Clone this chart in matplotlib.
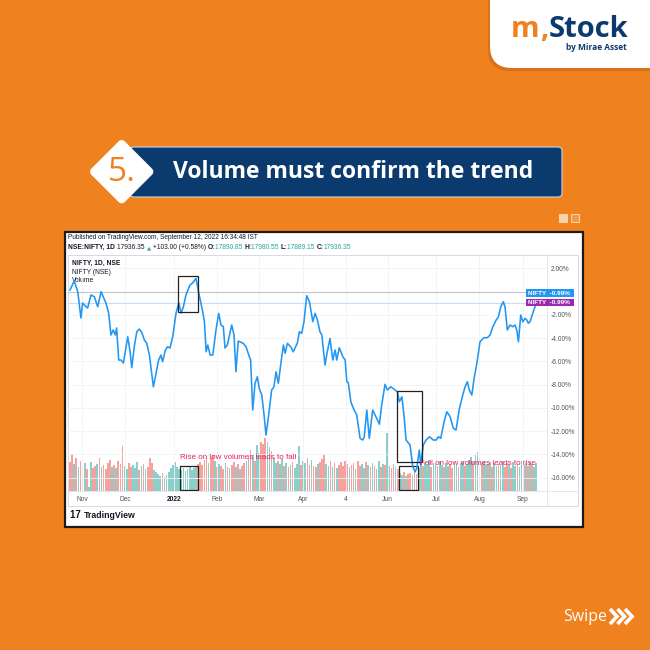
import numpy as np
import matplotlib.pyplot as plt
from matplotlib.patches import Rectangle, FancyBboxPatch, Polygon
from matplotlib.lines import Line2D

plt.rcParams['font.family'] = ['Liberation Sans', 'DejaVu Sans']
plt.rcParams['axes.unicode_minus'] = False

# ---------- data (session index from 25 Oct 2021, % change) ----------
line_x = [0, 2.0, 3.7, 5.2, 6.0, 7.6, 8.4, 10.0, 11.6, 13.2,
          14.8, 17.1, 18.4, 19.5, 20.6, 21.6, 22.2, 23.2, 24.3, 25.4,
          27.5, 28.6, 29.4, 30.6, 31.8, 33.0, 34.3, 35.4, 36.5, 37.8,
          39.7, 41.0, 42.2, 43.3, 44.1, 45.4, 46.5, 47.6, 48.9, 50.5,
          51.8, 52.9, 54.0, 55.2, 57.1, 58.4, 60.0, 61.3, 63.2, 64.0,
          64.8, 65.6, 66.7, 68.0, 69.5, 70.8, 71.9, 73.0, 73.8, 74.9,
          77.0, 78.1, 79.0, 80.1, 82.5, 83.8, 85.4, 86.0, 87.0, 88.1,
          89.2, 90.1, 91.3, 92.4, 93.3, 94.4, 96.0, 97.1, 98.1, 99.2,
          100.3, 101.6, 102.4, 103.5, 105.1, 106.3, 108.2, 109.2, 110.3, 111.4,
          112.7, 114.0, 115.6, 116.7, 117.8, 119.0, 119.9, 121.4, 122.5, 123.8,
          125.1, 126.2, 127.0, 128.2, 129.9, 131.0, 131.8, 132.5, 133.7, 134.9,
          136.5, 138.1, 139.4, 140.1, 141.3, 142.5, 144.1, 146.0, 147.3, 148.4,
          150.0, 151.1, 152.7, 154.8, 155.9, 156.8, 158.0, 159.0, 160.0, 161.9,
          163.2, 164.3, 165.1, 166.3, 167.0, 168.2, 169.5, 171.1, 173.0, 174.3,
          175.4, 176.5, 178.1, 179.4, 181.0, 182.5, 183.8, 185.4, 187.0, 188.1,
          189.2, 190.1, 191.3, 192.4, 193.7, 195.2, 197.1, 198.7, 200.0, 201.3,
          202.9, 204.0, 205.1, 206.3, 207.1, 208.2, 209.5, 210.8, 211.9, 212.7,
          213.5, 214.6, 215.6, 216.7, 217.5, 218.2, 219.0, 220.3, 221.4, 222.2]
line_pct = [0.14, 0.91, -0.01, -2.27, -0.98, -1.30, -1.41, -0.29, -0.44, -1.30,
            -0.01, -0.98, -1.84, -3.73, -3.30, -3.73, -3.13, -5.88, -5.88, -6.14,
            -3.88, -5.17, -6.54, -4.74, -3.45, -3.22, -3.56, -4.16, -4.42, -5.45,
            -8.18, -7.00, -5.88, -5.45, -6.03, -5.02, -4.74, -4.85, -3.88, -1.84,
            -0.98, -1.84, -1.30, -0.29, 0.57, 0.74, 1.14, -0.12, -1.73, -2.59,
            -5.17, -4.59, -5.45, -5.45, -3.30, -1.87, -2.87, -3.02, -4.85, -4.59,
            -2.87, -3.73, -6.89, -4.25, -4.45, -4.74, -5.60, -5.88, -10.18, -7.88,
            -7.32, -8.31, -8.89, -10.61, -12.33, -10.89, -8.46, -8.18, -6.89, -7.88,
            -6.31, -4.59, -5.31, -4.45, -4.74, -5.17, -4.45, -3.45, -3.59, -2.59,
            -0.35, -0.87, -2.59, -1.87, -2.44, -3.45, -3.73, -6.31, -5.17, -4.02,
            -5.88, -5.02, -5.88, -4.82, -5.60, -5.88, -7.75, -7.83, -9.47, -10.03,
            -10.61, -12.61, -12.76, -12.48, -10.18, -12.61, -10.18, -10.89, -11.40, -9.75,
            -7.97, -8.46, -8.18, -8.46, -8.61, -9.47, -9.04, -10.61, -12.76, -13.19,
            -15.06, -15.49, -15.19, -13.62, -14.91, -13.19, -12.76, -12.48, -12.76, -12.76,
            -12.48, -12.61, -11.19, -10.33, -10.76, -11.75, -11.90, -10.03, -8.89, -8.18,
            -7.75, -8.46, -8.89, -7.45, -6.17, -4.31, -3.96, -3.96, -3.73, -3.02,
            -2.44, -2.16, -1.30, -0.87, -1.30, -3.30, -2.87, -3.02, -2.87, -3.30,
            -4.31, -2.01, -2.59, -2.30, -2.44, -2.73, -2.59, -1.87, -1.30, -0.99]

# daily volume (millions), one bar per session, and up/down flag
volume = [290, 370, 270, 330, 240, 300, 260, 280, 220, 40,
          290, 230, 250, 270, 330, 240, 260, 220, 280, 310,
          240, 260, 230, 300, 270, 450, 250, 220, 280, 240,
          260, 230, 290, 210, 250, 270, 220, 240, 330, 280,
          210, 190, 170, 150, 180, 140, 160, 190, 230, 260,
          290, 240, 220, 210, 230, 200, 220, 250, 210, 230,
          240, 270, 290, 260, 310, 340, 280, 330, 360, 300,
          240, 270, 250, 220, 280, 240, 230, 260, 290, 240,
          270, 220, 250, 280, 300, 340, 410, 360, 300, 460,
          380, 490, 470, 530, 490, 440, 400, 330, 280, 300,
          270, 320, 250, 280, 240, 260, 290, 230, 270, 450,
          260, 300, 280, 330, 260, 310, 250, 240, 270, 290,
          320, 360, 270, 250, 300, 240, 280, 230, 260, 290,
          250, 300, 270, 240, 260, 280, 220, 300, 250, 270,
          230, 290, 260, 240, 280, 250, 220, 300, 240, 270,
          260, 580, 250, 230, 270, 240, 220, 180, 160, 190,
          150, 170, 180, 160, 190, 170, 230, 270, 250, 290,
          260, 310, 240, 280, 270, 250, 300, 260, 240, 280,
          250, 270, 230, 290, 260, 240, 280, 300, 250, 270,
          310, 340, 300, 360, 390, 330, 280, 300, 260, 270,
          290, 240, 280, 250, 270, 260, 300, 240, 280, 260,
          230, 290, 250, 270, 240, 300, 260, 280, 250, 290,
          270, 240, 280]
vol_dir = ("rrgrgrrgrg" "grrgrgrrrr" "grgrrrggrr" "gggrgrgrrr" "ggggrggggg"
           "gggggggggg" "grrrrrgrrg" "rgrrgrgrrg" "rgrrgrrgrg" "grrrggrggr"
           "ggrgrgrggg" "rggrrgrrgr" "rrggrgrgrr" "rrrgrrgrrg" "grgrgrggrg"
           "rggrrgrggr" "grrgrrggrg" "ggrggrggrg" "grrggrggrg" "ggrgggrggr"
           "grggrggrrg" "rggrggrgrg" "rgg")

month_pos = [5.9, 26.2, 49.5, 69.9, 90.0, 111.1, 131.4, 151.3, 174.1, 194.9, 215.6]
month_lab = ['Nov', 'Dec', '2022', 'Feb', 'Mar', 'Apr', '4', 'Jun', 'Jul', 'Aug', 'Sep']
pct_ticks = [2, -2, -4, -6, -8, -10, -12, -14, -16]
last_pct = -0.99

ORANGE = '#F0811F'
NAVY = '#0B3A6E'
TEAL = '#26a69a'
UP = '#8ccfc8'
DOWN = '#f5a19e'
PINK = '#e91e63'

W = H = 650
fig = plt.figure(figsize=(6.5, 6.5), dpi=100, facecolor=ORANGE)

def frac(l, t, r, b):
    return [l / W, 1 - b / H, (r - l) / W, (b - t) / H]

# ---------- background / decorations in pixel coords ----------
bg = fig.add_axes([0, 0, 1, 1])
bg.set_xlim(0, W)
bg.set_ylim(H, 0)
bg.axis('off')

# logo card
bg.add_patch(FancyBboxPatch((488, -40), 220, 111, boxstyle='round,pad=0,rounding_size=22',
                            fc='#d9701a', ec='none'))
bg.add_patch(FancyBboxPatch((490, -40), 220, 108, boxstyle='round,pad=0,rounding_size=22',
                            fc='white', ec='none'))

def chain(parts, x, y, ax, **kw):
    r = fig.canvas.get_renderer()
    for s, props in parts:
        opts = dict(kw)
        opts.update(props)
        t = ax.text(x, y, s, va='baseline', ha='left', **opts)
        bb = t.get_window_extent(renderer=r)
        x = ax.transData.inverted().transform((bb.x1, bb.y0))[0]
    return x

chain([('m', dict(color=ORANGE)), (',', dict(color=ORANGE)), ('Stock', dict(color=NAVY))],
      511, 37, bg, fontsize=21, fontweight='bold', family='Open Sans')
bg.text(627, 48, 'by Mirae Asset', ha='right', va='center', fontsize=6,
        fontweight='bold', color=NAVY, family='Open Sans')

# title banner
bg.add_patch(FancyBboxPatch((130, 147), 432, 50, boxstyle='round,pad=0,rounding_size=4',
                            fc=NAVY, ec='#c9d3e0', lw=0.8))
cx, cy, d = 121.7, 171.7, 27.5
bg.add_patch(Polygon([(cx, cy - d), (cx + d, cy), (cx, cy + d), (cx - d, cy)],
                     closed=True, fc='white', ec='white', lw=6, joinstyle='round'))
bg.text(cx, cy + 1, '5.', ha='center', va='center', fontsize=24,
        color=ORANGE, family='Open Sans')
bg.text(173, 172, 'Volume must confirm the trend', ha='left', va='center',
        fontsize=16.5, fontweight='bold', color='white', family='Open Sans')

# page squares
bg.add_patch(Rectangle((559, 213.5), 8, 8, fc='#f9d2aa', ec='#f9d2aa', lw=0.8))
bg.add_patch(Rectangle((571, 213.5), 8, 8, fc='#f39a4a', ec='#f9d2aa', lw=0.8))

# swipe
bg.text(563, 617, 'Swipe', ha='left', va='center', fontsize=11.5, color='white',
        family='Open Sans')
for k in range(3):
    x0 = 610 + 7.5 * k
    bg.add_line(Line2D([x0, x0 + 7, x0], [609, 616.5, 624], color='white', lw=2.6,
                       solid_joinstyle='miter', solid_capstyle='butt'))

# chart panel
bg.add_patch(Rectangle((65, 232), 518, 295, fc='white', ec='#1b1b1b', lw=1.6))
bg.add_patch(Rectangle((68, 255), 510, 251, fc='none', ec='#d1d4dc', lw=0.6))
bg.add_line(Line2D([547, 547], [255, 506], color='#e0e3eb', lw=0.6))
bg.add_line(Line2D([68, 578], [491, 491], color='#e0e3eb', lw=0.6))

bg.text(68.5, 239, 'Published on TradingView.com, September 12, 2022 16:34:48 IST',
        ha='left', va='baseline', fontsize=4.7, color='#131722')
chain([('NSE:NIFTY, 1D ', dict(fontweight='bold', color='#131722')),
       ('17936.35 ', dict(color='#131722')),
       ('▲', dict(color=TEAL, family='DejaVu Sans', fontsize=3.9)),
       (' +103.00 (+0.58%) ', dict(color='#131722')),
       ('O:', dict(fontweight='bold', color='#131722')),
       ('17890.85 ', dict(color=TEAL)),
       ('H:', dict(fontweight='bold', color='#131722')),
       ('17980.55 ', dict(color=TEAL)),
       ('L:', dict(fontweight='bold', color='#131722')),
       ('17889.15 ', dict(color=TEAL)),
       ('C:', dict(fontweight='bold', color='#131722')),
       ('17936.35', dict(color=TEAL))],
      68.5, 249, bg, fontsize=4.8)

bg.text(72, 263.5, 'NIFTY, 1D, NSE', fontsize=4.8, fontweight='bold', color='#131722', va='center')
bg.text(72, 272.3, 'NIFTY (NSE)', fontsize=4.8, color='#131722', va='center')
bg.text(72, 280.8, 'Volume', fontsize=4.8, color='#131722', va='center')

# TradingView footer
chain([('17 ', dict(fontweight='heavy', fontsize=7)),
       ('TradingView', dict(fontweight='bold', fontsize=6.3))],
      70, 518, bg, color='#131722')

# ---------- chart ----------
ax = fig.add_axes(frac(68, 256, 547, 491))
axv = ax.twinx()
ax.set_zorder(axv.get_zorder() + 1)
ax.patch.set_visible(False)

bar_colors = [UP if c == 'g' else DOWN for c in vol_dir]
axv.bar(np.arange(len(volume)), volume, width=0.8, color=bar_colors, linewidth=0)
axv.set_ylim(0, 2350)
axv.set_yticks([])
for s in axv.spines.values():
    s.set_visible(False)

for p in pct_ticks + [0]:
    ax.axhline(p, color='#f0f3fa', lw=0.6, zorder=0)
for m in month_pos:
    ax.axvline(m, color='#f0f3fa', lw=0.6, zorder=0)
ax.axhline(0, color='#c3c6ce', lw=0.8, zorder=1)
ax.axhline(last_pct, color='#c8dcf8', lw=0.8, zorder=1)

ax.plot(line_x, line_pct, color='#2196f3', lw=1.15, zorder=3)

ax.set_xlim(-0.95, 227.1)
ax.set_ylim(-17.14, 3.06)
ax.set_xticks(month_pos)
ax.set_xticklabels(month_lab)
for lab in ax.get_xticklabels():
    lab.set_fontsize(4.8)
    lab.set_color('#50535e')
    if lab.get_text() == '2022':
        lab.set_fontweight('bold')
        lab.set_color('#131722')
ax.tick_params(axis='x', length=0, pad=3.5)
ax.yaxis.tick_right()
ax.set_yticks(pct_ticks)
ax.set_yticklabels([f'{p:.2f}%' for p in pct_ticks])
ax.tick_params(axis='y', length=0, pad=3, labelsize=4.8, labelcolor='#50535e')
for s in ax.spines.values():
    s.set_visible(False)

# annotations
ax.add_patch(Rectangle((51.6, -1.73), 9.2, 3.10, fill=False, ec='#222222', lw=0.9, zorder=4))
ax.add_patch(Rectangle((155.9, -14.68), 11.6, 6.13, fill=False, ec='#222222', lw=0.9, zorder=4))
axv.add_patch(Rectangle((52.4, 10), 8.4, 240, fill=False, ec='#222222', lw=0.9, zorder=4))
axv.add_patch(Rectangle((156.8, 10), 9.1, 240, fill=False, ec='#222222', lw=0.9, zorder=4))
ax.text(52.4, -14.3, 'Rise on low volumes leads to fall', color=PINK, fontsize=5.8,
        ha='left', va='center', zorder=5)
ax.text(166.7, -14.76, 'Fall on low volumes leads to rise', color=PINK, fontsize=5.8,
        ha='left', va='center', zorder=5)

# price labels on scale
top = fig.add_axes([0, 0, 1, 1], zorder=10)
top.set_xlim(0, W)
top.set_ylim(H, 0)
top.axis('off')
top.add_patch(Rectangle((526, 289.3), 47.5, 7.6, fc='#2196f3', ec='none'))
top.add_patch(Rectangle((526, 298.8), 47.5, 7.6, fc='#9c27b0', ec='none'))
top.text(528, 293.2, f'NIFTY  {last_pct:.2f}%', color='white', fontsize=4.6,
         fontweight='bold', va='center', ha='left')
top.text(528, 302.7, f'NIFTY  {last_pct:.2f}%', color='white', fontsize=4.6,
         fontweight='bold', va='center', ha='left')

fig.savefig('out.png', dpi=100, facecolor=ORANGE)
